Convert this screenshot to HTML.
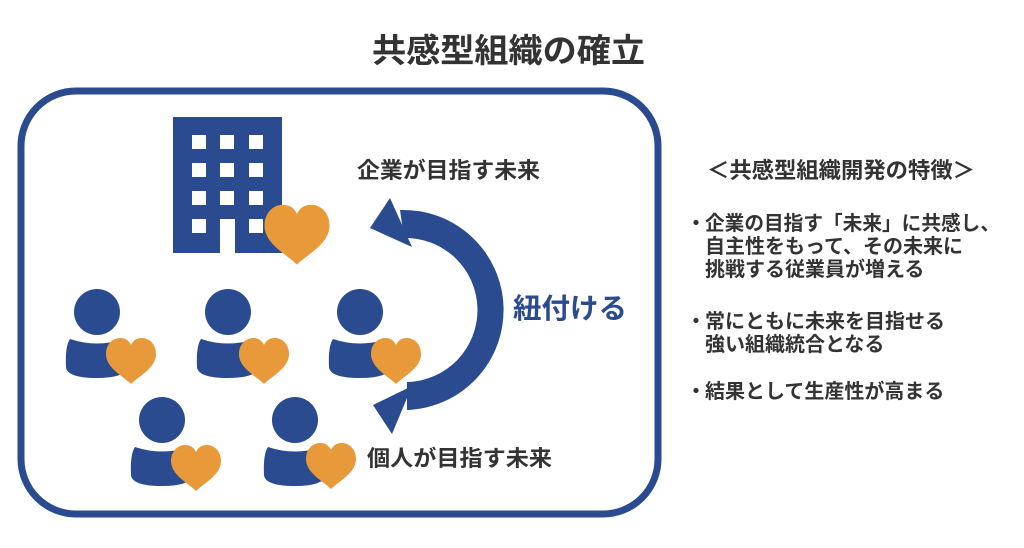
<!DOCTYPE html>
<html><head><meta charset="utf-8"><style>
html,body{margin:0;padding:0;background:#fff;width:1024px;height:548px;overflow:hidden}
text{font-family:"Liberation Sans","Noto Sans CJK JP",sans-serif;font-weight:bold;fill:#333}
</style></head><body>
<svg width="1024" height="548" viewBox="0 0 1024 548" xmlns="http://www.w3.org/2000/svg">
<defs>
<path id="heart" d="M0,22 C-8,14 -25,6 -25,-8 C-25,-18 -18,-24 -11,-24 C-5,-24 -2,-21 0,-17 C2,-21 5,-24 11,-24 C18,-24 25,-18 25,-8 C25,6 8,14 0,22 Z"/>
<g id="person">
<circle cx="0" cy="0" r="23" fill="#2A4B8F"/>
<path d="M-27,27 Q0,36 27,27 Q33,32 32,55 Q28,66 0,66 Q-30,66 -31,55 Q-32,34 -27,27 Z" fill="#2A4B8F"/>
</g>
</defs>
<text x="372" y="62" font-size="33" textLength="273" lengthAdjust="spacingAndGlyphs">共感型組織の確立</text>
<rect x="21" y="91" width="637" height="423" rx="55" fill="none" stroke="#2A4B8F" stroke-width="7"/>
<rect x="173" y="117" width="109" height="136" fill="#2A4B8F"/>
<g fill="#fff">
<rect x="192" y="135" width="14" height="14"/><rect x="220" y="135" width="14" height="14"/><rect x="249" y="135" width="14" height="14"/>
<rect x="192" y="163" width="14" height="14"/><rect x="220" y="163" width="14" height="14"/><rect x="249" y="163" width="14" height="14"/>
<rect x="192" y="191" width="14" height="14"/><rect x="220" y="191" width="14" height="14"/><rect x="249" y="191" width="14" height="14"/>
<rect x="192" y="219" width="14" height="14"/><rect x="220" y="219" width="15" height="35"/><rect x="249" y="219" width="14" height="14"/>
</g>
<use href="#heart" fill="#E8993A" transform="translate(297,236) scale(1.3)"/>
<use href="#person" x="97" y="312"/>
<use href="#person" x="228" y="312"/>
<use href="#person" x="360" y="312"/>
<use href="#person" x="162" y="420"/>
<use href="#person" x="295" y="420"/>
<g fill="#E8993A">
<use href="#heart" x="131" y="362"/>
<use href="#heart" x="264" y="362"/>
<use href="#heart" x="396" y="362"/>
<use href="#heart" x="196" y="469"/>
<use href="#heart" x="331" y="467"/>
</g>
<path d="M400,210 A100,100 0 0 1 407,410 L407,382 A72,72 0 0 0 404,238 Z" fill="#2A4B8F"/>
<polygon points="390,198 370,228 412,247" fill="#2A4B8F"/>
<polygon points="412,386 373,405 392,434" fill="#2A4B8F"/>
<text x="357" y="178" font-size="22" textLength="183" lengthAdjust="spacingAndGlyphs">企業が目指す未来</text>
<text x="367" y="466" font-size="22" textLength="185" lengthAdjust="spacingAndGlyphs">個人が目指す未来</text>
<text x="513" y="318" font-size="28" textLength="114" lengthAdjust="spacingAndGlyphs" style="fill:#2A4B8F">紐付ける</text>
<g font-size="20">
<text x="707" y="178" font-size="22" textLength="268" lengthAdjust="spacingAndGlyphs">＜共感型組織開発の特徴＞</text>
<text x="686" y="230">・</text>
<text x="705" y="230" textLength="295" lengthAdjust="spacingAndGlyphs">企業の目指す「未来」に共感し、</text>
<text x="705" y="253">自主性をもって、その未来に</text>
<text x="705" y="276">挑戦する従業員が増える</text>
<text x="686" y="328">・</text>
<text x="705" y="328">常にともに未来を目指せる</text>
<text x="705" y="351">強い組織統合となる</text>
<text x="686" y="398">・</text>
<text x="705" y="398">結果として生産性が高まる</text>
</g>
</svg>
</body></html>
